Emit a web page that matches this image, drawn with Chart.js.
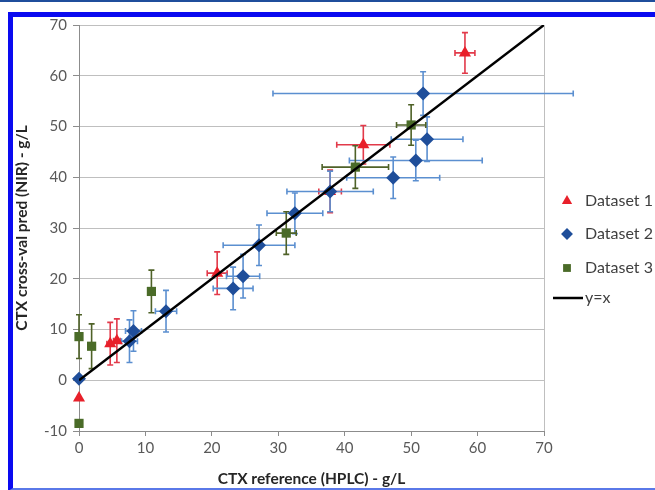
<!DOCTYPE html>
<html>
<head>
<meta charset="utf-8">
<script src="https://cdn.jsdelivr.net/npm/chart.js@4/dist/chart.umd.min.js"></script>
<style>
  html, body { margin: 0; padding: 0; background: #fff; overflow: hidden; width: 655px; height: 490px; }
  #topline { position: absolute; left: 0; top: 0; width: 655px; height: 2px; background: #1f4e9c; }
  #frame { position: absolute; left: 8px; top: 12px; width: 700px; height: 471px;
           border-left: 5px solid #0a0af0; border-top: 5px solid #0a0af0; border-bottom: 3px solid #5a78e8; }
  #wrap { position: absolute; left: 0; top: 0; width: 700px; height: 490px; }
</style>
</head>
<body>
<div id="topline"></div>
<div id="frame"></div>
<div id="wrap"><canvas id="chart" width="700" height="490"></canvas></div>
<script>
// Dataset 1 (red triangles)
const ds1X = [0, 4.7, 5.7, 20.8, 37.8, 42.8, 58.1];
const ds1Y = [-3.5, 7.2, 7.8, 21.1, 37.2, 46.4, 64.5];
const ds1XErr = [0, 0.5, 0.5, 1.5, 1.7, 4, 1.5];
const ds1YErr = [0, 4.2, 4.3, 4.2, 4.2, 3.8, 4];

// Dataset 2 (blue diamonds)
const ds2X = [0, 7.6, 8.2, 13.1, 23.2, 24.7, 27.1, 32.5, 37.8, 47.3, 50.7, 52.4, 51.8];
const ds2Y = [0.3, 7.7, 9.7, 13.6, 18.1, 20.5, 26.6, 32.9, 37.2, 39.9, 43.3, 47.5, 56.5];
const ds2XErr = [0, 1.2, 1.2, 1.6, 3, 2.5, 5.4, 4.2, 6.5, 7, 10, 5.4, 22.6];
const ds2YErr = [0, 4.2, 4, 4.1, 4.2, 4.3, 4, 4, 4, 4.1, 4, 4.4, 4.3];

// Dataset 3 (green squares)
const ds3X = [0, 0, 1.9, 10.9, 31.2, 41.6, 50.0];
const ds3Y = [8.6, -8.5, 6.7, 17.5, 29.0, 42.0, 50.3];
const ds3XErr = [0, 0, 0.3, 0.4, 1.5, 5, 2.2];
const ds3YErr = [4.3, 0, 4.4, 4.2, 4.2, 4.2, 4];

// identity line
const lineX = [0, 70];
const lineY = [0, 70];

const xTicks = [0, 10, 20, 30, 40, 50, 60, 70];
const yTicks = [-10, 0, 10, 20, 30, 40, 50, 60, 70];

const toPoints = (xs, ys, xe, ye) =>
  xs.map((x, i) => ({ x, y: ys[i], xErr: xe ? xe[i] : 0, yErr: ye ? ye[i] : 0 }));

const gray = "#bfbfbf";
const axisGray = "#8c8c8c";
const font = "Lato, 'Open Sans', sans-serif";

// error bars drawn under the markers
const errorBars = {
  id: "errorBars",
  beforeDatasetsDraw(chart) {
    const { ctx, scales } = chart;
    const x = scales.x, y = scales.y;
    const cap = 3;
    chart.data.datasets.forEach((ds) => {
      if (!ds.errorColor) return;
      ctx.save();
      ctx.strokeStyle = ds.errorColor;
      ctx.lineWidth = 1.6;
      ds.data.forEach((p) => {
        const px = x.getPixelForValue(p.x);
        const py = y.getPixelForValue(p.y);
        ctx.beginPath();
        if (p.xErr) {
          const l = x.getPixelForValue(p.x - p.xErr);
          const r = x.getPixelForValue(p.x + p.xErr);
          ctx.moveTo(l, py); ctx.lineTo(r, py);
          ctx.moveTo(l, py - cap); ctx.lineTo(l, py + cap);
          ctx.moveTo(r, py - cap); ctx.lineTo(r, py + cap);
        }
        if (p.yErr) {
          const t = y.getPixelForValue(p.y + p.yErr);
          const b = y.getPixelForValue(p.y - p.yErr);
          ctx.moveTo(px, t); ctx.lineTo(px, b);
          ctx.moveTo(px - cap, t); ctx.lineTo(px + cap, t);
          ctx.moveTo(px - cap, b); ctx.lineTo(px + cap, b);
        }
        ctx.stroke();
      });
      ctx.restore();
    });
  },
};

// legend on the right, Excel style
const sideLegend = {
  id: "sideLegend",
  afterDraw(chart) {
    const { ctx, chartArea } = chart;
    const rows = [201, 234, 268, 298];
    const mx = chartArea.right + 23;
    const tx = chartArea.right + 41;
    ctx.save();
    ctx.font = "16px " + font;
    ctx.textBaseline = "middle";
    chart.data.datasets.forEach((ds) => {
      if (ds.legendRow === undefined) return;
      const cy = rows[ds.legendRow];
      ctx.fillStyle = ds.backgroundColor;
      if (ds.type === "line") {
        ctx.lineWidth = 2.5;
        ctx.strokeStyle = ds.borderColor;
        ctx.beginPath();
        ctx.moveTo(chartArea.right + 9, cy);
        ctx.lineTo(chartArea.right + 39, cy);
        ctx.stroke();
      } else {
        ctx.strokeStyle = ds.backgroundColor;
        Chart.helpers.drawPoint(ctx, { pointStyle: ds.pointStyle, radius: ds.pointRadius * 0.85, borderWidth: 0 }, mx, cy);
      }
      ctx.fillStyle = "#404040";
      ctx.fillText(ds.label, tx, cy);
    });
    ctx.restore();
  },
};

new Chart(document.getElementById("chart"), {
  type: "scatter",
  data: {
    datasets: [
      {
        type: "line",
        label: "y=x",
        data: lineX.map((x, i) => ({ x, y: lineY[i] })),
        borderColor: "#000",
        backgroundColor: "#000",
        borderWidth: 2.5,
        pointRadius: 0,
        order: 0,
        legendRow: 3,
      },
      {
        label: "Dataset 1",
        data: toPoints(ds1X, ds1Y, ds1XErr, ds1YErr),
        pointStyle: "triangle",
        pointRadius: 7,
        backgroundColor: "#e8202a",
        borderColor: "#e8202a",
        borderWidth: 0,
        errorColor: "#e23a4a",
        clip: false,
        order: 3,
        legendRow: 0,
      },
      {
        label: "Dataset 2",
        data: toPoints(ds2X, ds2Y, ds2XErr, ds2YErr),
        pointStyle: "rectRot",
        pointRadius: 7,
        backgroundColor: "#1f4e9a",
        borderColor: "#1f4e9a",
        borderWidth: 0,
        errorColor: "#5b8fd0",
        clip: false,
        order: 2,
        legendRow: 1,
      },
      {
        label: "Dataset 3",
        data: toPoints(ds3X, ds3Y, ds3XErr, ds3YErr),
        pointStyle: "rect",
        pointRadius: 6.5,
        backgroundColor: "#4a6b28",
        borderColor: "#4a6b28",
        borderWidth: 0,
        errorColor: "#4f6228",
        clip: false,
        order: 1,
        legendRow: 2,
      },
    ],
  },
  options: {
    responsive: false,
    animation: false,
    layout: { padding: { left: 8, top: 25, right: 156, bottom: 0 } },
    plugins: {
      legend: { display: false },
      tooltip: { enabled: false },
    },
    scales: {
      x: {
        type: "linear",
        min: 0,
        max: 70,
        afterBuildTicks: (s) => { s.ticks = xTicks.map((v) => ({ value: v })); },
        afterFit: (s) => { s.height = 59; },
        grid: {
          color: (c) => (c.tick && c.tick.value === 70 ? gray : "transparent"),
          tickColor: axisGray,
          tickLength: 5,
        },
        border: { color: axisGray },
        ticks: { color: "#595959", font: { family: font, size: 15 }, padding: 3 },
        title: {
          display: true,
          text: "CTX reference (HPLC) - g/L",
          color: "#262626",
          font: { family: font, size: 15.5, weight: "bold" },
          padding: { top: 4, bottom: 2 },
        },
      },
      y: {
        type: "linear",
        min: -10,
        max: 70,
        afterBuildTicks: (s) => { s.ticks = yTicks.map((v) => ({ value: v })); },
        afterFit: (s) => { s.width = 71; },
        grid: { color: gray, tickColor: axisGray, tickLength: 6 },
        border: { color: axisGray },
        ticks: { color: "#595959", font: { family: font, size: 15 }, padding: 6 },
        title: {
          display: true,
          text: "CTX cross-val pred (NIR) - g/L",
          color: "#262626",
          font: { family: font, size: 15.5, weight: "bold" },
          padding: { top: 5, bottom: 4 },
        },
      },
    },
  },
  plugins: [errorBars, sideLegend],
});
</script>
</body>
</html>
